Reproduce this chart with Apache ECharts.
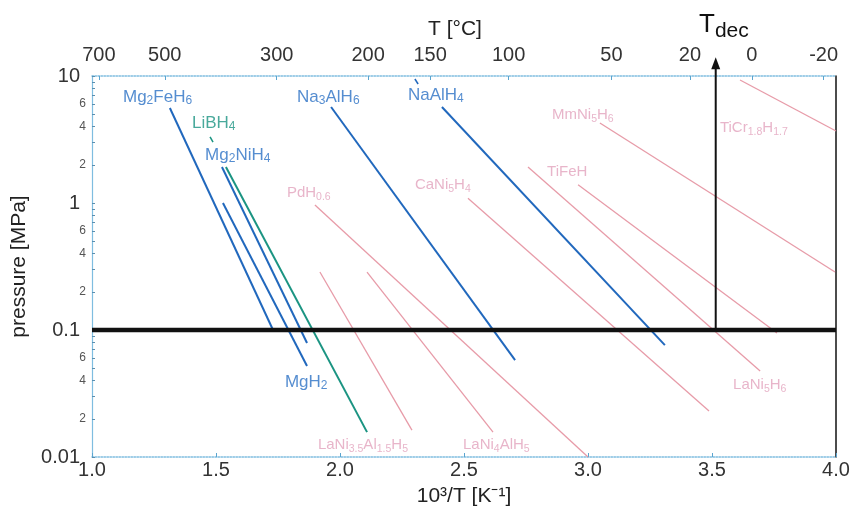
<!DOCTYPE html>
<html><head><meta charset="utf-8">
<script src="https://cdn.jsdelivr.net/npm/echarts@6/dist/echarts.min.js"></script>
<style>html,body{margin:0;padding:0;background:#fff}#c{width:854px;height:513px}</style>
</head><body><div id="c"></div>
<script>
// x: 10^3/T [1/K], y: pressure [MPa]
const xTicks = [1.0, 1.5, 2.0, 2.5, 3.0, 3.5, 4.0];
const tempTicksC = [700, 500, 300, 200, 150, 100, 50, 20, 0, -20];
const pressureLabels = [0.01, 0.02, 0.04, 0.06, 0.1, 0.2, 0.4, 0.6, 1, 2, 4, 6, 10];
const pressureMajor = [0.01, 0.1, 1, 10];
const pressureTicks = [0.01,0.02,0.03,0.04,0.05,0.06,0.07,0.08,0.09,0.1,0.2,0.3,0.4,0.5,0.6,0.7,0.8,0.9,1,2,3,4,5,6,7,8,9,10];

// van 't Hoff lines (start, end)
const Mg2FeH6 = [[1.314, 5.6], [1.730, 0.1]];
const MgH2 = [[1.528, 1.0], [1.867, 0.052]];
const Mg2NiH4 = [[1.524, 1.92], [1.867, 0.079]];
const LiBH4 = [[1.540, 1.92], [2.109, 0.0157]];
const Na3AlH6 = [[1.964, 5.7], [2.706, 0.058]];
const NaAlH4 = [[2.411, 5.7], [3.310, 0.076]];
const PdH06 = [[1.899, 0.965], [3.0, 0.01]];
const LaNi35Al15H5 = [[1.919, 0.286], [2.290, 0.0163]];
const LaNi4AlH5 = [[2.109, 0.286], [2.617, 0.0157]];
const CaNi5H4 = [[2.516, 1.09], [3.488, 0.023]];
const LaNi5H6 = [[2.758, 1.92], [3.694, 0.0475]];
const TiFeH = [[2.960, 1.39], [3.762, 0.0947]];
const MmNi5H6 = [[3.048, 4.27], [3.996, 0.286]];
const TiCr18H17 = [[3.613, 9.3], [4.0, 3.69]];
const atmosphere = [[1.0, 0.1], [4.0, 0.1]];
const tDec = [[3.515, 0.1], [3.515, 12.6]];
const leaderLiBH4 = [[1.476, 3.31], [1.488, 3.02]];
const leaderNaAlH4 = [[2.302, 9.47], [2.315, 8.65]];

// label texts and anchors (left edge, vertical centre)
const labelNames = ['Mg{s|2}FeH{s|6}','Na{s|3}AlH{s|6}','NaAlH{s|4}','LiBH{s|4}','Mg{s|2}NiH{s|4}','MgH{s|2}',
  'PdH{s|0.6}','CaNi{s|5}H{s|4}','TiFeH','MmNi{s|5}H{s|6}','TiCr{s|1.8}H{s|1.7}','LaNi{s|5}H{s|6}','LaNi{s|3.5}Al{s|1.5}H{s|5}','LaNi{s|4}AlH{s|5}'];
const labelAnchors = [[1.125,6.84],[1.827,6.84],[2.274,7.08],[1.403,4.27],[1.456,2.39],[1.778,0.039],
  [1.786,1.2],[2.302,1.39],[2.835,1.75],[2.855,4.93],[3.532,3.9],[3.585,0.0369],[1.911,0.0124],[2.496,0.0124]];
const labelGroup = ['blue','blue','blue','green','blue','blue','pink','pink','pink','pink','pink','pink','pink','pink'];

const BLUE = '#2168bd', GREEN = '#1b9482', PINK = '#e4909f';
const LBLUE = '#2a70c4', LPINK = '#e2a2bd';
const FONT = '"Liberation Sans", Arial, sans-serif';

const blueSeries = [Mg2FeH6, MgH2, Mg2NiH4, Na3AlH6, NaAlH4];
const pinkSeries = [PdH06, LaNi35Al15H5, LaNi4AlH5, CaNi5H4, LaNi5H6, TiFeH, MmNi5H6, TiCr18H17];

const series = [];
function lineS(data, color, width, extra) {
  return Object.assign({type: 'line', data: data, symbol: 'none', silent: true,
    lineStyle: {color: color, width: width}, animation: false, z: 3}, extra || {});
}
blueSeries.forEach(d => series.push(lineS(d, BLUE, 2)));
series.push(lineS(LiBH4, GREEN, 2));
pinkSeries.forEach(d => series.push(lineS(d, PINK, 1.3, {lineStyle: {color: PINK, width: 1.3, opacity: 0.9}})));
series.push(lineS(leaderLiBH4, GREEN, 1.5));
series.push(lineS(leaderNaAlH4, BLUE, 1.5));
series.push(lineS(atmosphere, '#111', 4.5, {z: 5}));
series.push({type: 'line', silent: true, animation: false, clip: false, z: 6,
  showSymbol: true, symbol: 'none',
  data: [{value: tDec[0], symbol: 'none'}, {value: tDec[1], symbol: 'triangle', symbolSize: [9, 12]}],
  lineStyle: {color: '#111', width: 2}, itemStyle: {color: '#111'}});

const subStyle = (c, fs) => ({fontSize: fs, color: c, fontFamily: FONT, padding: [8, 0, 0, 0]});
series.push({
  type: 'scatter', symbolSize: 0, silent: true, animation: false, z: 6, clip: false,
  data: labelNames.map((n, i) => {
    const g = labelGroup[i];
    const col = g === 'blue' ? LBLUE : g === 'green' ? GREEN : LPINK;
    const pink = g === 'pink';
    return {value: labelAnchors[i], label: {show: true, position: 'right', distance: 0,
      formatter: n, color: col, fontSize: pink ? 15 : 17, fontFamily: FONT,
      rich: {s: subStyle(col, pink ? 10.5 : 12)}}};
  })
});

const tempPos = tempTicksC.map(t => 1000 / (t + 273.15));

const option = {
  backgroundColor: '#fff',
  animation: false,
  grid: {left: 92, right: 18, top: 76, bottom: 56},
  xAxis: [{
    type: 'value', position: 'bottom', min: 1.0, max: 4.0, interval: 0.5,
    name: '10³/T [K⁻¹]', nameLocation: 'middle', nameGap: 29,
    nameTextStyle: {fontSize: 21, color: '#222', fontFamily: FONT},
    axisLine: {show: true, lineStyle: {color: '#7fbde0', type: 'dotted', width: 1.5}},
    axisTick: {show: true, inside: true, length: 4, lineStyle: {color: '#5aa4cf'}},
    axisLabel: {fontSize: 20, color: '#333', fontFamily: FONT, margin: 3,
      formatter: v => v.toFixed(1)},
    splitLine: {show: false}
  }, {
    type: 'value', position: 'top', min: 1.0, max: 4.0,
    name: 'T [°C]', nameLocation: 'middle', nameGap: 36,
    nameTextStyle: {fontSize: 21, color: '#222', fontFamily: FONT, padding: [0, 18, 0, 0]},
    axisLine: {show: true, lineStyle: {color: '#7fbde0', type: 'dotted', width: 1.5}},
    axisTick: {show: true, inside: true, length: 4, customValues: tempPos, lineStyle: {color: '#5aa4cf'}},
    axisLabel: {fontSize: 20, color: '#333', fontFamily: FONT, margin: 11, customValues: tempPos,
      formatter: v => {
        let best = 0, bd = 1e9;
        tempPos.forEach((p, i) => { const d = Math.abs(p - v); if (d < bd) { bd = d; best = i; } });
        return String(tempTicksC[best]);
      }},
    splitLine: {show: false}
  }],
  yAxis: [{
    type: 'log', logBase: 10, min: 0.01, max: 10, position: 'left',
    name: 'pressure [MPa]', nameLocation: 'middle', nameGap: 57,
    nameTextStyle: {fontSize: 21, color: '#222', fontFamily: FONT},
    axisLine: {show: true, lineStyle: {color: '#7fbde0', width: 1.2}},
    axisTick: {show: true, inside: true, length: 3, customValues: pressureTicks, lineStyle: {color: '#5a8fb0'}},
    axisLabel: {customValues: pressureLabels, margin: 6, color: '#333', fontFamily: FONT,
      formatter: v => {
        const isMaj = pressureMajor.some(m => Math.abs(m - v) / m < 1e-6);
        if (isMaj) return '{maj|' + (v >= 1 ? String(Math.round(v)) : String(+v.toPrecision(1))) + '}';
        const e = Math.floor(Math.log10(v) + 1e-9);
        return '{mn|' + Math.round(v / Math.pow(10, e)) + '}';
      },
      rich: {maj: {fontSize: 20, color: '#333', fontFamily: FONT, padding: [0, 6, 0, 0]},
             mn: {fontSize: 12, color: '#555', fontFamily: FONT}}},
    splitLine: {show: false}
  }, {
    type: 'log', logBase: 10, min: 0.01, max: 10, position: 'right',
    axisLine: {show: true, lineStyle: {color: '#111', width: 1.5}},
    axisTick: {show: false}, axisLabel: {show: false}, splitLine: {show: false}
  }],
  graphic: [{
    type: 'text', left: 699, top: 12, silent: true,
    style: {rich: {t: {fontSize: 26, fill: '#111', fontFamily: FONT}, d: {fontSize: 21, fill: '#111', fontFamily: FONT, padding: [12, 0, 0, 0]}},
      text: '{t|T}{d|dec}'}
  }],
  series: series
};
const chart = echarts.init(document.getElementById('c'), null, {renderer: 'canvas'});
chart.setOption(option);
</script></body></html>
